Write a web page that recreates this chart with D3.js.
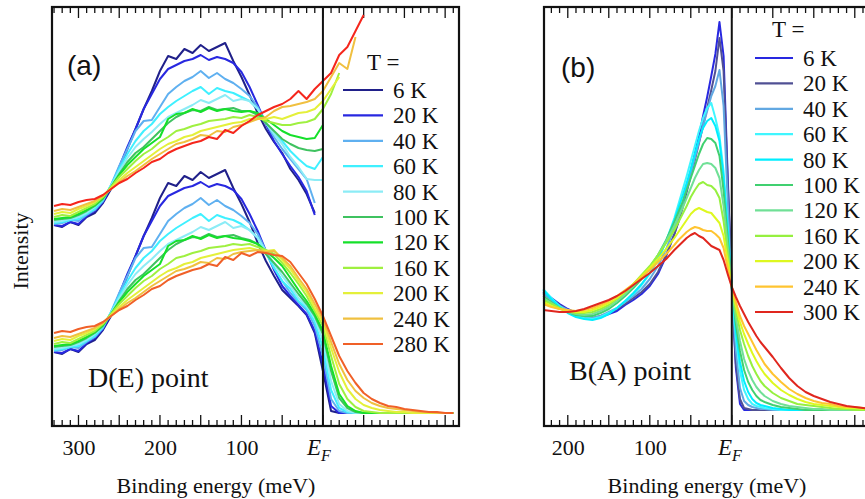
<!DOCTYPE html>
<html>
<head>
<meta charset="utf-8">
<script src="https://cdn.jsdelivr.net/npm/d3@7"></script>
<style>
    body { margin: 0; background: #fff; }
</style>
</head>
<body>
<script>
//binding energy grid of panel (a), meV
var energyA = [330,320,310,300,290,280,270,260,250,240,230,220,210,200,190,180,170,160,150,140,
    130,120,110,100,90,80,70,60,50,40,30,20,10,0,-10,-20,-30,-40,-50,-60,
    -70,-80,-90,-100,-110,-120,-130,-140,-150,-160];

//panel (a) temperatures and colours
var tempsA = ["6 K","20 K","40 K","60 K","80 K","100 K","120 K","160 K","200 K","240 K","280 K"];
var colorsA = ["#20208a","#2828e0","#5fb0f0","#3ff0ff","#8cecf6","#3fc260","#15e02a","#9ff040","#e4f03a","#f0c040","#f06028"];

//panel (a), raw spectra (lower set)
var lowA6   = [74,72,77,74,82,86,96,110,128,150,170,190,208,228,243,240,250,246,254,248,252,256,238,222,204,183,165,150,136,128,120,111,93,55,15,13,13,13,13,13,13,13,13,13,13,13,13,13,13,13];
var lowA20  = [74,73,77,75,83,88,97,112,132,152,170,190,205,220,230,234,238,240,244,239,242,240,236,227,212,195,175,156,140,130,121,112,95,62,20,13,13,13,13,13,13,13,13,13,13,13,13,13,13,13];
var lowA40  = [75,76,79,78,84,89,98,114,133,150,168,178,179,192,205,212,218,222,228,221,226,220,216,210,203,192,175,158,145,133,124,116,100,70,27,15,13,13,13,13,13,13,13,13,13,13,13,13,13,13];
var lowA60  = [76,77,79,80,85,90,99,114,130,145,158,168,175,185,192,198,203,208,212,205,211,208,206,202,196,188,173,158,145,137,125,118,104,78,36,18,14,13,13,13,13,13,13,13,13,13,13,13,13,13];
var lowA80  = [77,78,80,82,86,92,100,113,128,141,152,160,167,175,182,186,190,194,199,196,200,204,198,200,196,188,175,162,150,140,128,120,108,85,45,22,15,13,13,13,13,13,13,13,13,13,13,13,13,13];
var lowA100 = [79,80,81,84,88,93,100,112,125,137,146,152,160,168,176,182,186,189,188,192,189,190,191,188,186,182,172,163,154,143,132,122,110,92,55,28,18,14,13,13,13,13,13,13,13,13,13,13,13,13];
var lowA120 = [80,81,82,85,89,94,101,112,124,134,142,150,156,162,180,185,186,190,187,191,188,190,188,187,185,182,175,168,160,148,136,125,112,95,60,32,20,15,13,13,13,13,13,13,13,13,13,13,13,13];
var lowA160 = [82,84,83,87,91,95,102,112,122,130,138,145,150,157,162,168,170,173,175,178,179,180,182,181,182,179,176,172,163,153,142,130,115,100,70,42,27,19,15,14,13,13,13,13,13,13,13,13,13,13];
var lowA200 = [85,87,86,90,93,97,103,111,119,126,132,138,144,150,155,158,162,164,168,170,172,174,176,177,178,176,175,176,166,157,145,134,118,104,78,54,37,27,21,18,16,15,14,14,13,13,13,13,13,13];
var lowA240 = [88,90,89,92,95,98,103,110,117,123,128,134,140,145,150,155,157,160,164,163,168,167,172,174,175,176,174,175,168,160,148,137,122,107,84,62,46,35,28,23,20,18,17,16,15,14,14,13,13,13];
var lowA280 = [93,95,94,97,99,100,104,110,116,120,126,131,137,140,146,150,153,156,158,162,160,169,166,173,170,174,173,171,170,164,153,142,127,110,90,70,55,43,33,27,23,20,19,17,16,15,14,14,13,13];

//panel (a), spectra divided by the Fermi function (upper set, shifted up)
var divA6   = [74,72,77,74,82,86,96,110,128,150,170,190,208,228,243,240,250,246,254,248,252,256,238,222,204,186,170,157,146,130,119,105,86];
var divA20  = [74,73,77,75,83,88,97,112,132,152,170,190,205,220,230,234,238,240,244,239,242,240,236,227,212,194,175,158,145,133,122,108,84];
var divA40  = [75,76,79,78,84,89,98,114,133,150,168,178,179,192,205,212,218,222,228,221,226,220,216,210,203,192,176,162,150,140,130,120,96];
var divA60  = [76,77,79,80,85,90,99,114,130,145,158,168,175,185,192,198,203,208,212,205,211,208,206,202,198,190,176,165,158,148,140,133,130,142];
var divA80  = [77,78,80,82,86,92,100,113,128,141,152,160,167,175,182,186,190,194,199,196,200,204,198,200,198,190,176,165,155,142,132,120,119,119];
var divA100 = [79,80,81,84,88,93,100,112,125,137,146,152,160,168,176,182,186,189,188,192,189,190,191,188,188,184,176,168,160,155,151,149,148,150];
var divA120 = [80,81,82,85,89,94,101,112,124,134,142,150,156,162,180,185,186,190,187,191,188,190,188,187,188,186,180,174,168,164,162,160,161,174];
var divA160 = [82,84,83,87,91,95,102,112,122,130,138,145,150,157,162,168,170,173,175,178,179,180,182,181,184,182,178,176,174,174,176,177,180,190,205,226];
var divA200 = [85,87,86,90,93,97,103,111,119,126,132,138,144,150,155,158,162,164,168,170,172,174,176,177,180,180,180,182,180,183,186,187,190,198,210,222];
var divA240 = [88,90,89,92,95,98,103,110,117,123,128,134,140,145,150,155,157,160,164,163,168,167,172,174,177,180,182,188,192,193,195,197,200,208,222,236,230,262];
var divA280 = [93,95,94,97,99,100,104,110,116,120,126,131,137,140,146,150,153,156,158,162,160,169,166,173,178,184,188,192,195,200,208,200,210,218,226,244,252,268,284];

//binding energy grid of panel (b), meV
var energyB = [230,220,210,200,190,180,170,160,150,140,130,120,110,100,90,80,70,
    65,60,55,50,45,40,35,30,25,20,15,10,5,0,-5,-10,-15,-20,-25,-30,-35,-40,
    -50,-60,-70,-80,-90,-100,-110,-120,-130,-140,-150,-160,-170,-180];

//panel (b) temperatures and colours
var tempsB = ["6 K","20 K","40 K","60 K","80 K","100 K","120 K","160 K","200 K","240 K","300 K"];
var colorsB = ["#2828e0","#505094","#62a8e2","#40f6ff","#00eeff","#40d070","#70e096","#96f040","#def820","#ffc430","#e0261e"];

var specB6   = [134,128,122,117,113,110,107,109,112,115,121,126,132,140,152,170,192,205,220,238,255,272,290,310,329,350,372,404,370,250,139,58,22,16,16,16,16,16,16,16,16,16,16,16,16,16,16,16,16,16,16,16,16];
var specB20  = [132,127,121,116,112,109,108,110,113,117,122,128,134,142,154,171,192,204,218,234,250,266,283,300,318,336,355,388,355,245,139,62,27,18,17,16,16,16,16,16,16,16,16,16,16,16,16,16,16,16,16,16,16];
var specB40  = [133,126,120,116,112,110,108,110,114,118,124,130,137,147,160,177,198,210,223,238,252,268,284,300,315,330,340,356,320,225,139,75,38,25,21,19,18,17,17,16,16,16,16,16,16,16,16,16,16,16,16,16,16];
var specB60  = [137,128,120,114,110,108,107,109,113,118,125,132,141,152,166,185,208,222,236,250,265,280,295,308,318,323,308,290,255,200,139,88,55,36,27,22,20,19,18,17,16,16,16,16,16,16,16,16,16,16,16,16,16];
var specB80  = [136,127,119,113,109,107,106,108,112,118,125,133,142,153,167,185,206,218,230,243,257,272,287,298,305,308,300,285,248,196,139,95,64,45,34,27,23,21,20,18,17,16,16,16,16,16,16,16,16,16,16,16,16];
var specB100 = [130,124,118,114,111,110,110,113,117,123,130,138,147,158,171,186,204,214,224,236,248,260,272,282,288,287,283,270,235,188,139,102,75,56,44,36,30,26,24,21,19,18,17,16,16,16,16,16,16,16,16,16,16];
var specB120 = [128,123,118,114,112,111,112,115,119,125,132,140,149,159,171,185,200,209,218,228,238,248,256,262,263,262,258,248,220,180,139,108,85,67,55,46,39,34,30,25,22,20,19,18,17,17,16,16,16,16,16,16,16];
var specB160 = [126,122,118,115,113,113,114,117,121,127,134,142,151,160,171,183,196,204,212,220,229,236,242,244,241,240,236,228,205,172,139,115,96,82,70,60,52,45,40,33,28,25,22,21,20,19,18,17,17,16,16,16,16];
var specB200 = [124,120,117,115,114,114,116,119,123,128,135,142,150,158,167,177,188,194,200,206,212,216,218,216,214,213,208,203,190,165,139,120,104,92,82,73,65,58,52,43,36,31,27,24,22,21,20,19,18,18,17,17,17];
var specB240 = [122,119,117,116,115,116,118,121,125,130,136,142,149,156,164,172,181,186,190,194,197,199,198,196,195,195,192,188,178,158,139,124,110,100,92,84,76,69,62,52,44,37,32,28,25,23,22,20,19,19,18,18,17];
var specB300 = [116,115,114,114,115,117,120,123,126,130,135,141,147,153,160,167,176,180,184,188,191,193,190,188,184,180,178,176,166,152,139,129,120,112,104,97,90,84,79,69,58,48,40,34,30,27,24,22,20,19,18,17,17];

//tick labels
var tickLabelsA = [300, 200, 100];
var tickLabelsB = [200, 100];

//series grouped by panel
var lowerA = [lowA6, lowA20, lowA40, lowA60, lowA80, lowA100, lowA120, lowA160, lowA200, lowA240, lowA280];
var upperA = [divA6, divA20, divA40, divA60, divA80, divA100, divA120, divA160, divA200, divA240, divA280];
var seriesB = [specB6, specB20, specB40, specB60, specB80, specB100, specB120, specB160, specB200, specB240, specB300];

(function(){

var upperOffset = 127; //vertical shift of the divided spectra
var frameTop = 7, frameBottom = 426;
//try every roman face that might be installed before giving up
var serif = "'Liberation Serif', 'Times New Roman', Times, 'Nimbus Roman', 'Nimbus Roman No9 L', " +
    "'TeX Gyre Termes', FreeSerif, Tinos, 'Noto Serif', 'DejaVu Serif', 'Bitstream Vera Serif', Georgia, serif";
var sans = "'Liberation Sans', Arial, Helvetica, sans-serif";

window.onload = setChart();

function setChart(){
    var svg = d3.select("body")
        .append("svg")
        .attr("width", 865)
        .attr("height", 499);

    //panel (a)
    var xA = d3.scaleLinear().domain([332.5, -167]).range([52, 459]);
    var yA = d3.scaleLinear().domain([0, 419]).range([frameBottom, frameTop]);

    drawTicks(svg, xA, d3.range(330, -170, -10));
    drawCurves(svg, xA, yA, energyA, upperA, colorsA.slice(0, 10).concat(["#f5261c"]), upperOffset);
    drawCurves(svg, xA, yA, energyA, lowerA, colorsA, 0);
    drawFrame(svg, xA, 52, 459);
    drawTickLabels(svg, xA, tickLabelsA, 307);
    drawLegend(svg, 343, 383, 90, 367, 70, tempsA, colorsA);

    addText(svg, 67, 75, "(a)", 28, sans);
    addText(svg, 88, 387, "D(E) point", 28, serif);
    addText(svg, 216, 493, "Binding energy (meV)", 22, serif).attr("text-anchor", "middle");
    addText(svg, 0, 0, "Intensity", 22, serif)
        .attr("text-anchor", "middle")
        .attr("transform", "translate(28,251) rotate(-90)");

    //panel (b)
    var xB = d3.scaleLinear().domain([229, -180]).range([544, 544 + 409 * 0.82]);
    var yB = d3.scaleLinear().domain([0, 419]).range([frameBottom, frameTop]);

    drawTicks(svg, xB, d3.range(220, -190, -10));
    drawCurves(svg, xB, yB, energyB, seriesB, colorsB, 0);
    drawFrame(svg, xB, 544, 544 + 409 * 0.82);
    drawTickLabels(svg, xB, tickLabelsB, 718);
    drawLegend(svg, 755, 793, 58, 772, 37, tempsB, colorsB);

    addText(svg, 561, 77, "(b)", 28, sans);
    addText(svg, 569, 380, "B(A) point", 28, serif);
    addText(svg, 707, 493, "Binding energy (meV)", 22, serif).attr("text-anchor", "middle");
};

function addText(svg, x, y, str, size, family){
    return svg.append("text")
        .attr("x", x).attr("y", y)
        .style("font-family", family)
        .style("font-size", size + "px")
        .style("fill", "#111")
        .text(str);
};

//draw one family of spectra
function drawCurves(svg, x, y, energies, series, colors, offset){
    var line = d3.line()
        .defined(function(d){ return d != null; })
        .x(function(d, i){ return x(energies[i]); })
        .y(function(d){ return y(d + offset); });

    svg.append("g")
        .selectAll("path")
        .data(series)
        .enter()
        .append("path")
        .attr("d", line)
        .attr("fill", "none")
        .attr("stroke", function(d, i){ return colors[i]; })
        .attr("stroke-width", 2)
        .attr("stroke-linejoin", "round");
};

//inward ticks on top and bottom edges
function drawTicks(svg, x, values){
    var major = values.filter(function(v){ return v % 50 == 0; });

    [[frameTop, 1], [frameBottom, -1]].forEach(function(edge){
        svg.append("g")
            .selectAll("line")
            .data(values)
            .enter()
            .append("line")
            .attr("x1", function(d){ return x(d); })
            .attr("x2", function(d){ return x(d); })
            .attr("y1", edge[0])
            .attr("y2", function(d){ return edge[0] + edge[1] * (major.indexOf(d) >= 0 ? 11 : 6); })
            .attr("stroke", "#111")
            .attr("stroke-width", 1.3);
    });
};

//box and Fermi level line
function drawFrame(svg, x, left, right){
    svg.append("rect")
        .attr("x", left).attr("y", frameTop)
        .attr("width", right - left)
        .attr("height", frameBottom - frameTop)
        .attr("fill", "none")
        .attr("stroke", "#111")
        .attr("stroke-width", 2.2);

    svg.append("line")
        .attr("x1", x(0)).attr("x2", x(0))
        .attr("y1", frameTop).attr("y2", frameBottom)
        .attr("stroke", "#111")
        .attr("stroke-width", 2);
};

//numeric tick labels plus E_F
function drawTickLabels(svg, x, values, efX){
    var axis = d3.axisBottom(x)
        .tickValues(values)
        .tickSize(0)
        .tickPadding(13)
        .tickFormat(d3.format("d"));

    var g = svg.append("g")
        .attr("transform", "translate(0," + frameBottom + ")")
        .call(axis)
        .attr("font-family", null)
        .attr("font-size", null);
    g.select(".domain").remove();
    g.selectAll("text")
        .style("font-size", "22px")
        .style("font-family", serif)
        .style("fill", "#111");

    var ef = addText(svg, efX, 455, "", 23, serif)
        .style("font-style", "italic");
    ef.append("tspan").text("E");
    ef.append("tspan").attr("dy", 6).style("font-size", "16px").text("F");
};

//legend with title "T ="
function drawLegend(svg, x1, x2, y0, titleX, titleY, temps, colors){
    var step = 25.4;

    addText(svg, titleX, titleY, "T =", 23, serif);

    var rows = svg.append("g")
        .selectAll("g")
        .data(temps)
        .enter()
        .append("g")
        .attr("transform", function(d, i){ return "translate(0," + (y0 + i * step) + ")"; });

    rows.append("line")
        .attr("x1", x1).attr("x2", x2)
        .attr("stroke", function(d, i){ return colors[i]; })
        .attr("stroke-width", 2.2);

    rows.append("text")
        .attr("x", x2 + 10)
        .attr("y", 8)
        .style("font-family", serif)
        .style("font-size", "23px")
        .style("fill", "#111")
        .text(function(d){ return d; });
};

})();
</script>
</body>
</html>
